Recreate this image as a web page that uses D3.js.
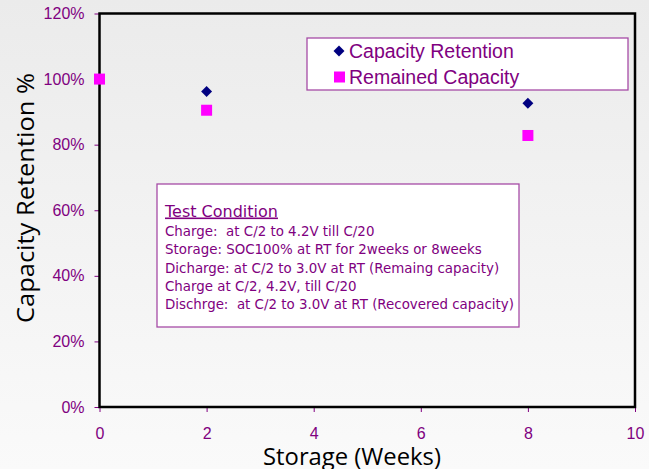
<!DOCTYPE html>
<html><head><meta charset="utf-8">
<script src="https://cdn.jsdelivr.net/npm/d3@7"></script>
<style>html,body{margin:0;padding:0;overflow:hidden;}</style>
</head><body>
<script>
const weeks = [0, 2, 8];
const capacityRetention = [100, 96.2, 92.6];
const remainedCapacity = [100, 90.5, 82.8];
const xTicks = [0, 2, 4, 6, 8, 10];
const yTicks = [0, 20, 40, 60, 80, 100, 120];
const seriesNames = ["Capacity Retention", "Remained Capacity"];
const noteTitle = "Test Condition";
const noteLines = [
  "Charge:  at C/2 to 4.2V till C/20",
  "Storage: SOC100% at RT for 2weeks or 8weeks",
  "Dicharge: at C/2 to 3.0V at RT (Remaing capacity)",
  "Charge at C/2, 4.2V, till C/20",
  "Dischrge:  at C/2 to 3.0V at RT (Recovered capacity)"
];

const W = 649, H = 469;
const purple = "#800080";
const svg = d3.select("body").append("svg").attr("width", W).attr("height", H);
const defs = svg.append("defs");
const grad = defs.append("linearGradient").attr("id","bg").attr("x1",0).attr("y1",0).attr("x2",0).attr("y2",1);
grad.append("stop").attr("offset","0%").attr("stop-color","#ebebeb");
grad.append("stop").attr("offset","100%").attr("stop-color","#fafafa");
svg.append("rect").attr("width",W).attr("height",H).attr("fill","url(#bg)");

const x = d3.scaleLinear().domain([0,10]).range([99.5,635]);
const y = d3.scaleLinear().domain([0,120]).range([407,13.5]);

// axes
const xAxis = svg.append("g").attr("transform",`translate(0,${y(0)})`)
  .call(d3.axisBottom(x).tickValues(xTicks).tickSize(5).tickPadding(16).tickFormat(d3.format("d")));
const yAxis = svg.append("g").attr("transform",`translate(${x(0)},0)`)
  .call(d3.axisLeft(y).tickValues(yTicks).tickSize(5).tickPadding(10).tickFormat(d=>d+"%"));
[xAxis,yAxis].forEach(a=>{
  a.select(".domain").remove();
  a.selectAll(".tick line").attr("stroke",purple);
  a.selectAll(".tick text").attr("fill",purple).style("font-family","Liberation Sans, Arial, sans-serif").style("font-size","16px");
});

// plot border
svg.append("rect").attr("x",x(0)).attr("y",y(120)).attr("width",x(10)-x(0)).attr("height",y(0)-y(120))
  .attr("fill","none").attr("stroke","#000").attr("stroke-width",2.5);

// legend
const lg = svg.append("g");
lg.append("rect").attr("x",307).attr("y",38).attr("width",321).attr("height",52)
  .attr("fill","#fff").attr("stroke","#a64ca6").attr("stroke-width",1.3);
lg.append("path").attr("d", d3.symbol().type(d3.symbolSquare).size(60)()).attr("transform","translate(339,51) rotate(45)").attr("fill","#000080");
lg.append("rect").attr("x",334).attr("y",71.5).attr("width",11).attr("height",11).attr("fill","#ff00ff");
seriesNames.forEach((n,i)=>{
  lg.append("text").attr("x",349).attr("y",57.5+i*26).text(n)
    .attr("fill",purple).style("font-family","Liberation Sans, Arial, sans-serif").style("font-size","19.5px");
});

// note box
const nb = svg.append("g");
nb.append("rect").attr("x",157).attr("y",184).attr("width",362).attr("height",143)
  .attr("fill","#fff").attr("stroke","#a64ca6").attr("stroke-width",1.3);
nb.append("text").attr("x",165).attr("y",216.5).text(noteTitle).attr("fill",purple)
  .style("font-family","DejaVu Sans, Verdana, sans-serif").style("font-size","16px").style("text-decoration","underline");
noteLines.forEach((t,i)=>{
  nb.append("text").attr("x",165).attr("y",236+i*18.3).text(t).attr("fill",purple)
    .style("white-space","pre")
    .style("font-family","DejaVu Sans, Verdana, sans-serif").style("font-size","13.4px");
});

// data points
svg.append("g").selectAll("rect").data(weeks).join("rect")
  .attr("x",(d)=>x(d)-5.5).attr("y",(d,i)=>y(remainedCapacity[i])-5.5)
  .attr("width",11).attr("height",11).attr("fill","#ff00ff");
svg.append("g").selectAll("path").data(weeks.slice(1)).join("path")
  .attr("d", d3.symbol().type(d3.symbolSquare).size(60)())
  .attr("transform",(d,i)=>`translate(${x(d)},${y(capacityRetention[i+1])}) rotate(45)`)
  .attr("fill","#000080");

// axis titles
svg.append("text").attr("x",352).attr("y",464.5).attr("text-anchor","middle").text("Storage (Weeks)")
  .attr("textLength",178).attr("lengthAdjust","spacingAndGlyphs")
  .attr("fill","#000").style("font-family","Open Sans, sans-serif").style("font-size","23px");
svg.append("text").attr("transform","translate(34,198) rotate(-90)").attr("text-anchor","middle").text("Capacity Retention %")
  .attr("textLength",250).attr("lengthAdjust","spacingAndGlyphs")
  .attr("fill","#000").style("font-family","Open Sans, sans-serif").style("font-size","24px");
</script>
</body></html>
